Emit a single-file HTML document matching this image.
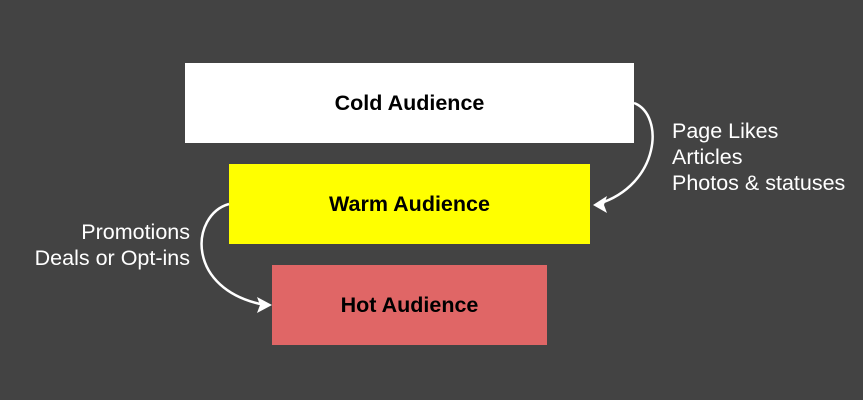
<!DOCTYPE html>
<html><head><style>
html,body{margin:0;padding:0}
body{width:863px;height:400px;background:#434343;position:relative;overflow:hidden;font-family:"Liberation Sans",Arial,sans-serif}
.b{position:absolute;display:flex;align-items:center;justify-content:center;font-weight:bold;font-size:21.5px;color:#000}
.t{position:absolute;color:#fff;font-size:21.5px;line-height:26px}
</style></head><body>
<div class="b" style="left:185px;top:63px;width:449px;height:80px;background:#fff">Cold Audience</div>
<div class="b" style="left:229px;top:164px;width:361px;height:80px;background:#ffff00">Warm Audience</div>
<div class="b" style="left:272px;top:265px;width:275px;height:80px;background:#e06666">Hot Audience</div>
<div class="t" style="left:672px;top:118px">Page Likes<br>Articles<br>Photos &amp; statuses</div>
<div class="t" style="right:673px;top:219px;text-align:right">Promotions<br>Deals or Opt-ins</div>
<svg width="863" height="400" style="position:absolute;left:0;top:0">
<path d="M634,103 C665,115 660,185 598,204" fill="none" stroke="#fff" stroke-width="2.5"/>
<polygon points="593,205 607,196 604,205 607,213" fill="#fff"/>
<path d="M229,204 C190,215 185,290 265,305" fill="none" stroke="#fff" stroke-width="2.5"/>
<polygon points="272,305 257,297 260,305 257,313" fill="#fff"/>
</svg>
</body></html>
